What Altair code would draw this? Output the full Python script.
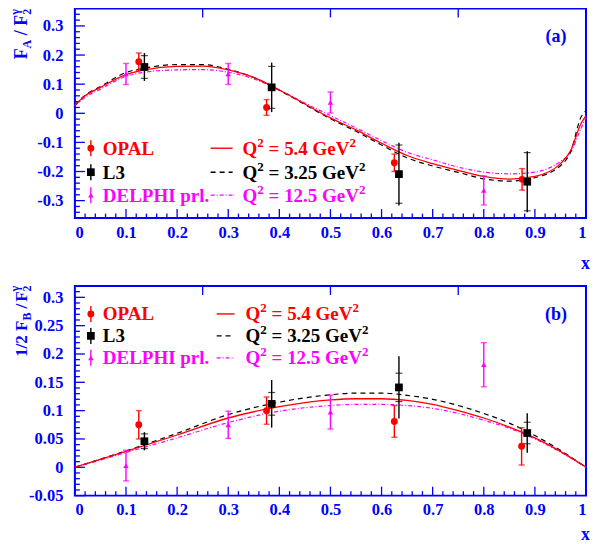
import altair as alt
import pandas as pd

W, H = 512, 210
BLUE = "#0000ff"
RED = "#ff0000"
MAG = "#ff00ff"
BLK = "#000000"
FONT = "Liberation Serif"

# ---------------- panel (a): F_A / F_2 ----------------
a_opal_x = [0.125, 0.375, 0.625, 0.875]
a_opal_y = [0.177, 0.020, -0.170, -0.227]
a_opal_e = [0.030, 0.027, 0.030, 0.037]

a_l3_x = [0.136, 0.385, 0.634, 0.885]
a_l3_y = [0.159, 0.089, -0.209, -0.235]
a_l3_tot = [0.048, 0.085, 0.108, 0.105]
a_l3_stat = [0.039, 0.072, 0.100, 0.100]

a_del_x = [0.10, 0.30, 0.50, 0.80]
a_del_y = [0.135, 0.135, 0.037, -0.265]
a_del_e = [0.036, 0.036, 0.036, 0.050]

a_cx = [0.0, 0.02, 0.05, 0.1, 0.136, 0.2, 0.25, 0.3, 0.35, 0.4, 0.45, 0.5,
        0.55, 0.6, 0.65, 0.7, 0.75, 0.8, 0.85, 0.9, 0.95, 0.97, 0.99, 1.0]
a_q54 = [0.028, 0.060, 0.089, 0.133, 0.149, 0.161, 0.162, 0.149, 0.123, 0.080, 0.032, -0.016,
         -0.057, -0.103, -0.145, -0.173, -0.196, -0.217, -0.226, -0.217, -0.173, -0.128, -0.036, -0.008]
a_q325 = [0.028, 0.062, 0.092, 0.140, 0.155, 0.167, 0.167, 0.151, 0.123, 0.079, 0.030, -0.019,
          -0.062, -0.109, -0.153, -0.181, -0.203, -0.225, -0.233, -0.221, -0.180, -0.132, -0.014, 0.009]
a_q125 = [0.026, 0.055, 0.083, 0.127, 0.141, 0.149, 0.150, 0.141, 0.118, 0.080, 0.035, -0.008,
          -0.050, -0.094, -0.134, -0.160, -0.185, -0.202, -0.208, -0.202, -0.165, -0.134, -0.053, -0.014]

# ---------------- panel (b): 1/2 F_B / F_2 ----------------
b_opal_x = [0.125, 0.375, 0.625, 0.874]
b_opal_y = [0.075, 0.100, 0.081, 0.037]
b_opal_e = [0.025, 0.024, 0.028, 0.033]

b_l3_x = [0.136, 0.385, 0.634, 0.885]
b_l3_y = [0.046, 0.112, 0.141, 0.0605]
b_l3_tot = [0.016, 0.042, 0.055, 0.035]
b_l3_stat = [0.013, 0.020, 0.025, 0.019]

b_del_x = [0.10, 0.30, 0.50, 0.80]
b_del_y = [0.003, 0.075, 0.0975, 0.181]
b_del_e = [0.027, 0.024, 0.030, 0.039]

b_cx = [0.0, 0.1, 0.2, 0.3, 0.4, 0.5, 0.55, 0.6, 0.65, 0.7, 0.75, 0.8, 0.85, 0.9, 0.95, 1.0]
b_q54 = [0.0, 0.028, 0.057, 0.087, 0.107, 0.119, 0.121, 0.121, 0.118, 0.111, 0.100, 0.087, 0.071, 0.052, 0.028, 0.0]
b_q325 = [0.0, 0.029, 0.060, 0.093, 0.115, 0.128, 0.131, 0.131, 0.127, 0.120, 0.109, 0.095, 0.078, 0.056, 0.030, 0.0]
b_q125 = [0.0, 0.026, 0.052, 0.079, 0.099, 0.109, 0.111, 0.111, 0.109, 0.104, 0.095, 0.083, 0.069, 0.050, 0.027, 0.0]

# ---------------- axes / ticks ----------------
x_major = [round(i * 0.1, 2) for i in range(11)]
x_minor = [round(i * 0.02, 2) for i in range(51) if i % 5 != 0]
x_top = [0.25, 0.5, 0.75]

a_dom = [-0.36, 0.36]
a_major = [-0.3, -0.2, -0.1, 0.0, 0.1, 0.2, 0.3]
a_minor = [round(-0.34 + i * 0.02, 2) for i in range(35) if round((-0.34 + i * 0.02) * 100) % 10 != 0]

b_dom = [-0.05, 0.32]
b_major = [-0.05, 0.0, 0.05, 0.1, 0.15, 0.2, 0.25, 0.3]
b_minor = [round(-0.04 + i * 0.01, 2) for i in range(36) if round((-0.04 + i * 0.01) * 100) % 5 != 0]

ONE = pd.DataFrame({"d": [0]})
LBL = "'' + datum.value"

# approximate Times-Bold advance widths (em)
TW = {"F": 0.611, "A": 0.722, "B": 0.667, "/": 0.278, " ": 0.25, "1": 0.5, "2": 0.5,
      "γ": 0.5, "Q": 0.778, "=": 0.570, "5": 0.5, ".": 0.25, "4": 0.5, "3": 0.5, "G": 0.778,
      "e": 0.444, "V": 0.722}
SP = 0.25


def tw(s, size):
    return sum(TW[c] for c in s) * size


def xsc():
    return alt.Scale(domain=[0, 1], nice=False, zero=False)


def txt(s, x, y, size, col, **kw):
    return (alt.Chart(ONE).mark_text(font=FONT, fontWeight="bold", fontSize=size, color=col, **kw)
            .encode(x=alt.value(x), y=alt.value(y), text=alt.value(s)))


def qlabel(value, x, y, col):
    # "Q^2 = value GeV^2" with real superscripts; spaces as explicit gaps
    out = []
    s1, s3 = 19, 13
    parts = [("Q", s1, 0, 0), ("2", s3, -8, 0), ("=", s1, 0, SP * s1),
             (value, s1, 0, SP * s1), ("GeV", s1, 0, SP * s1), ("2", s3, -8, 0)]
    for s, size, dy, gap in parts:
        x += gap
        out.append(txt(s, x, y + dy, size, col, align="left", baseline="alphabetic"))
        x += tw(s, size)
    return out


def build_panel(dom, ymaj, ymin, opal, l3, dl, curves, title_pieces, title_y0,
                leg_rows, leg_txt_x, leg_line, leg_q_x, tag, xtitle_y):
    ysc = alt.Scale(domain=dom, nice=False, zero=False)
    xaxis = alt.Axis(values=x_major, labelExpr=LBL, ticks=False, domain=False, grid=False,
                     labelPadding=6, labelFontSize=16.5, labelFont=FONT, labelFontWeight="bold",
                     labelColor=BLUE, title="x", titleX=W - 1, titleY=xtitle_y,
                     titleFontSize=18, titleFont=FONT, titleFontWeight="bold", titleColor=BLUE,
                     titleBaseline="middle", titleAlign="center")
    yaxis = alt.Axis(values=ymaj, labelExpr=LBL, ticks=False, domain=False, grid=False,
                     labelPadding=12, labelFontSize=16.5, labelFont=FONT, labelFontWeight="bold",
                     labelColor=BLUE, title=None)
    X = lambda f: alt.X(f, type="quantitative", scale=xsc(), axis=xaxis)
    Y = lambda f: alt.Y(f, type="quantitative", scale=ysc, axis=yaxis)

    layers = []
    # ---- inward ticks
    layers.append(alt.Chart(pd.DataFrame({"v": x_major})).mark_rule(color=BLUE, strokeWidth=1.3)
                  .encode(x=X("v"), y=alt.value(H), y2=alt.value(H - 9)))
    layers.append(alt.Chart(pd.DataFrame({"v": x_minor})).mark_rule(color=BLUE, strokeWidth=1.3)
                  .encode(x=X("v"), y=alt.value(H), y2=alt.value(H - 4.5)))
    layers.append(alt.Chart(pd.DataFrame({"v": x_top})).mark_rule(color=BLUE, strokeWidth=1.3)
                  .encode(x=X("v"), y=alt.value(0), y2=alt.value(9)))
    layers.append(alt.Chart(pd.DataFrame({"v": ymaj})).mark_rule(color=BLUE, strokeWidth=1.3)
                  .encode(y=Y("v"), x=alt.value(0), x2=alt.value(10)))
    layers.append(alt.Chart(pd.DataFrame({"v": ymin})).mark_rule(color=BLUE, strokeWidth=1.3)
                  .encode(y=Y("v"), x=alt.value(0), x2=alt.value(5)))

    # ---- curves
    for cx, cy, col, dash, sw in curves:
        df = pd.DataFrame({"x": cx, "y": cy})
        mk = dict(color=col, strokeWidth=sw, interpolate="monotone")
        if dash:
            mk["strokeDash"] = dash
        layers.append(alt.Chart(df).mark_line(**mk).encode(x=X("x"), y=Y("y")))

    # ---- data: DELPHI, OPAL, L3
    def errs(xs, ys, es, col, shape, size, cap=True, inner=None):
        df = pd.DataFrame({"x": xs, "y": ys,
                           "lo": [a - b for a, b in zip(ys, es)],
                           "hi": [a + b for a, b in zip(ys, es)]})
        out = [alt.Chart(df).mark_rule(color=col, strokeWidth=1.4)
               .encode(x=X("x"), y=Y("lo"), y2=alt.Y2("hi"))]
        if cap:
            for f in ("lo", "hi"):
                out.append(alt.Chart(df).mark_tick(color=col, orient="horizontal", size=6, thickness=1.4)
                           .encode(x=X("x"), y=Y(f)))
        if inner is not None:
            df2 = pd.DataFrame({"x": xs,
                                "lo": [a - b for a, b in zip(ys, inner)],
                                "hi": [a + b for a, b in zip(ys, inner)]})
            for f in ("lo", "hi"):
                out.append(alt.Chart(df2).mark_tick(color=col, orient="horizontal", size=7, thickness=1.2)
                           .encode(x=X("x"), y=Y(f)))
        out.append(alt.Chart(df).mark_point(color=col, shape=shape, size=size, filled=True, opacity=1)
                   .encode(x=X("x"), y=Y("y")))
        return out

    layers += errs(*dl, MAG, "triangle-up", 30)
    layers += errs(*opal, RED, "circle", 48)
    layers += errs(l3[0], l3[1], l3[2], BLK, "square", 60, cap=False, inner=l3[3])

    # ---- y title built from pieces (rotated); (text, size, baseline shift, gap before, advance)
    y = title_y0
    for s, size, shift, gap, adv in title_pieces:
        y -= gap
        layers.append(txt(s, -48 + shift, y, size, BLUE, angle=270, align="left", baseline="alphabetic"))
        if adv:
            y -= tw(s, size)

    # ---- legend
    syms = [("circle", RED, 48, "OPAL"), ("square", BLK, 60, "L3"), ("triangle-up", MAG, 30, "DELPHI prl.")]
    lines = [(RED, None, "5.4"), (BLK, [5, 4], "3.25"), (MAG, [4, 2, 1, 2], "12.5")]
    for ry, (shape, col, size, name), (lcol, dash, qv) in zip(leg_rows, syms, lines):
        layers.append(alt.Chart(ONE).mark_rule(color=col, strokeWidth=1.4)
                      .encode(x=alt.value(16), y=alt.value(ry - 8), y2=alt.value(ry + 8)))
        layers.append(alt.Chart(ONE).mark_point(color=col, shape=shape, size=size, filled=True, opacity=1)
                      .encode(x=alt.value(16), y=alt.value(ry)))
        layers.append(txt(name, leg_txt_x, ry + 6.5, 19, col, align="left", baseline="alphabetic"))
        mk = dict(color=lcol, strokeWidth=1.4)
        if dash:
            mk["strokeDash"] = dash
        layers.append(alt.Chart(ONE).mark_rule(**mk)
                      .encode(x=alt.value(leg_line[0]), x2=alt.value(leg_line[1]), y=alt.value(ry)))
        layers += qlabel(qv, leg_q_x, ry + 6.5, lcol)

    layers.append(txt(tag, W - 30, 29, 18, BLUE, align="center", baseline="middle"))

    return alt.layer(*layers).properties(width=W, height=H)


top = build_panel(
    a_dom, a_major, a_minor,
    (a_opal_x, a_opal_y, a_opal_e),
    (a_l3_x, a_l3_y, a_l3_tot, a_l3_stat),
    (a_del_x, a_del_y, a_del_e),
    [(a_cx, a_q125, MAG, [4, 2, 1, 2], 1.2), (a_cx, a_q325, BLK, [5, 4], 1.2), (a_cx, a_q54, RED, None, 1.3)],
    [("F", 18, 0, 0, True), ("A", 12, 4, 0, True), ("/", 18, 0, 4.5, True), ("F", 18, 0, 4.5, True),
     ("γ", 12, -8, 0, False), ("2", 12, 4, 0, True)],
    51,
    [140, 164, 187], 28, (136, 158), 168, "(a)", 45)

bottom = build_panel(
    b_dom, b_major, b_minor,
    (b_opal_x, b_opal_y, b_opal_e),
    (b_l3_x, b_l3_y, b_l3_tot, b_l3_stat),
    (b_del_x, b_del_y, b_del_e),
    [(b_cx, b_q125, MAG, [4, 2, 1, 2], 1.2), (b_cx, b_q325, BLK, [5, 4], 1.2), (b_cx, b_q54, RED, None, 1.3)],
    [("1/2 F", 17, 0, 0, True), ("B", 12, 4, 0, True), ("/", 17, 0, 4, True), ("F", 17, 0, 2, True),
     ("γ", 12, -8, 0, False), ("2", 12, 4, 0, True)],
    71,
    [28, 50, 72], 28, (142, 160), 171, "(b)", 39)

chart = alt.vconcat(top, bottom, spacing=11).properties(
    padding={"left": 0, "top": -2, "right": 0, "bottom": 0}
).configure_view(stroke=BLUE, strokeWidth=2)

chart.save("out.html", embed_options={"renderer": "svg", "actions": False})
